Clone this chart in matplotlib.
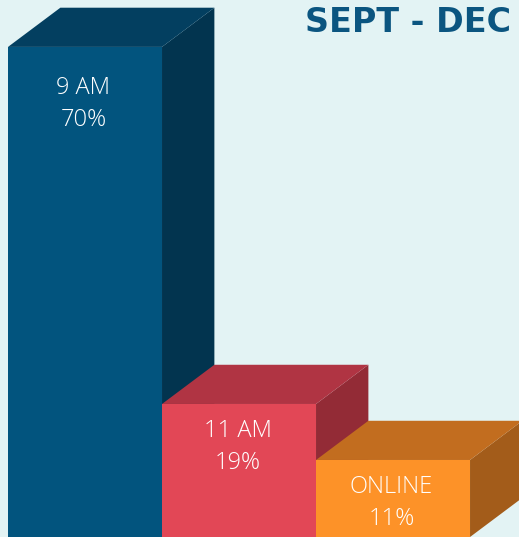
import matplotlib
matplotlib.use("Agg")
import matplotlib.pyplot as plt
from matplotlib.patches import Polygon

categories = ["9 AM", "11 AM", "ONLINE"]
values = [70, 19, 11]
front_colors = ["#02547e", "#e24756", "#fd9228"]
top_colors = ["#033f60", "#b03443", "#c26d1f"]
side_colors = ["#02344f", "#932b36", "#a35c1a"]
title = "SEPT - DEC"

W, H = 519, 537
fig = plt.figure(figsize=(W / 100, H / 100), dpi=100)
fig.patch.set_facecolor("#e3f3f4")
ax = fig.add_axes([0, 0, 1, 1])
ax.set_facecolor("#e3f3f4")
ax.set_xlim(-0.552, 2.818)
ax.set_ylim(0, 76.7)
ax.axis("off")

dx = 0.34   # depth offset in x (bar widths)
dy = 5.6    # depth offset in y (value units)
w = 0.5
label_drop = [5.9, 3.9, 3.9]
for i, (cat, v) in enumerate(zip(categories, values)):
    x0, x1 = i - w, i + w
    ax.add_patch(Polygon([(x1, 0), (x1 + dx, dy), (x1 + dx, v + dy), (x1, v)],
                         closed=True, facecolor=side_colors[i], edgecolor="none", zorder=2 + i))
    ax.add_patch(Polygon([(x0, v), (x0 + dx, v + dy), (x1 + dx, v + dy), (x1, v)],
                         closed=True, facecolor=top_colors[i], edgecolor="none", zorder=2 + i))
    ax.add_patch(Polygon([(x0, 0), (x0, v), (x1, v), (x1, 0)],
                         closed=True, facecolor=front_colors[i], edgecolor="none", zorder=3 + i))
    ax.text(i - 0.01, v - label_drop[i], cat, ha="center", va="center", color="white",
            fontsize=17, family="Open Sans", fontweight="light", zorder=10)
    ax.text(i - 0.01, v - label_drop[i] - 4.6, f"{v}%", ha="center", va="center", color="white",
            fontsize=17, family="Open Sans", fontweight="light", zorder=10)

fig.text(305 / W, 1 - 22 / H, title, ha="left", va="center", color="#0b5580",
         fontsize=24, family="DejaVu Sans", fontweight="bold")

fig.savefig("out.png", dpi=100, facecolor=fig.get_facecolor())
